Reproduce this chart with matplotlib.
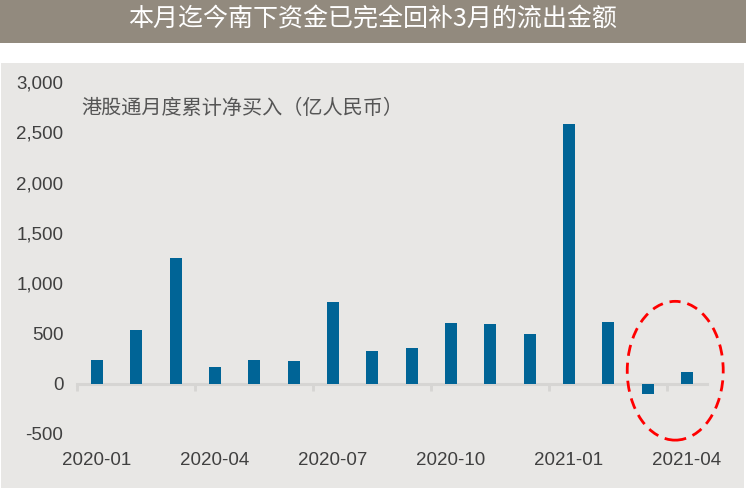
import matplotlib
matplotlib.use('Agg')
import matplotlib.pyplot as plt
from matplotlib.patches import Ellipse, Rectangle
import numpy as np

plt.rcParams['font.family'] = ['Liberation Sans', 'Noto Sans CJK SC', 'DejaVu Sans']

# 月份 / 港股通月度累计净买入（亿人民币）
months = ['2020-01', '2020-02', '2020-03', '2020-04', '2020-05', '2020-06',
          '2020-07', '2020-08', '2020-09', '2020-10', '2020-11', '2020-12',
          '2021-01', '2021-02', '2021-03', '2021-04']
values = [238, 536, 1251, 170, 238, 228, 814, 328, 357, 606, 596, 497,
          2582, 616, -100, 119]
yticks = [-500, 0, 500, 1000, 1500, 2000, 2500, 3000]

title = '本月迄今南下资金已完全回补3月的流出金额'
note = '港股通月度累计净买入（亿人民币）'

panel = '#e8e7e5'
bar_color = '#006496'
text_color = '#404040'

fig = plt.figure(figsize=(7.46, 4.88), dpi=100)
W, H = 746, 488

# 标题栏和灰色底板
fig.add_artist(Rectangle((0, 1 - 43 / H), 1, 43 / H, transform=fig.transFigure,
                         facecolor='#928a7e', edgecolor='none', zorder=-5))
fig.add_artist(Rectangle((1 / W, 0), 743 / W, 1 - 63 / H, transform=fig.transFigure,
                         facecolor=panel, edgecolor='none', zorder=-5))
fig.text(0.5, 1 - 20 / H, title, ha='center', va='center', color='white',
         fontsize=18, weight='medium', family=['Noto Sans CJK SC'])

ax = fig.add_axes([77.3 / W, 54 / H, 629.4 / W, 352 / H])
ax.set_facecolor('none')

x = np.arange(len(months))
ax.bar(x, values, width=0.31, color=bar_color, zorder=3)

ax.set_xlim(-0.5, len(months) - 0.5)
ax.set_ylim(-500, 3000)
ax.set_yticks(yticks)
ax.set_yticklabels([f'{v:,}' for v in yticks], fontsize=13.5, color=text_color)
ax.tick_params(axis='y', length=0, pad=10)

for s in ['top', 'right', 'left']:
    ax.spines[s].set_visible(False)
ax.spines['bottom'].set_position(('data', 0))
ax.spines['bottom'].set_color('#d6d5d3')
ax.spines['bottom'].set_linewidth(2.2)
ax.spines['bottom'].set_zorder(2)

# 刻度线在分组边界，标签在柱子下方
ax.set_xticks(np.arange(-0.5, len(months), 3))
ax.set_xticklabels([])
ax.tick_params(axis='x', which='major', length=5, width=2, color='#d6d5d3', direction='out')
ax.set_xticks(x[::3], minor=True)
ax.set_xticklabels(months[::3], minor=True, fontsize=13.5, color=text_color)
ax.tick_params(axis='x', which='minor', length=0, pad=49)

ax.text(0.007, 0.925, note, transform=ax.transAxes, fontsize=14.5, color='#555555',
        va='center', ha='left', family=['Noto Sans CJK SC'])

# 红色虚线圈
ell = Ellipse((14.7, 129), 2.44, 1380, fill=False, edgecolor='red', lw=2,
              linestyle=(0, (4, 2.5)), clip_on=False, zorder=4)
ax.add_patch(ell)

fig.savefig('out.png', dpi=100)
